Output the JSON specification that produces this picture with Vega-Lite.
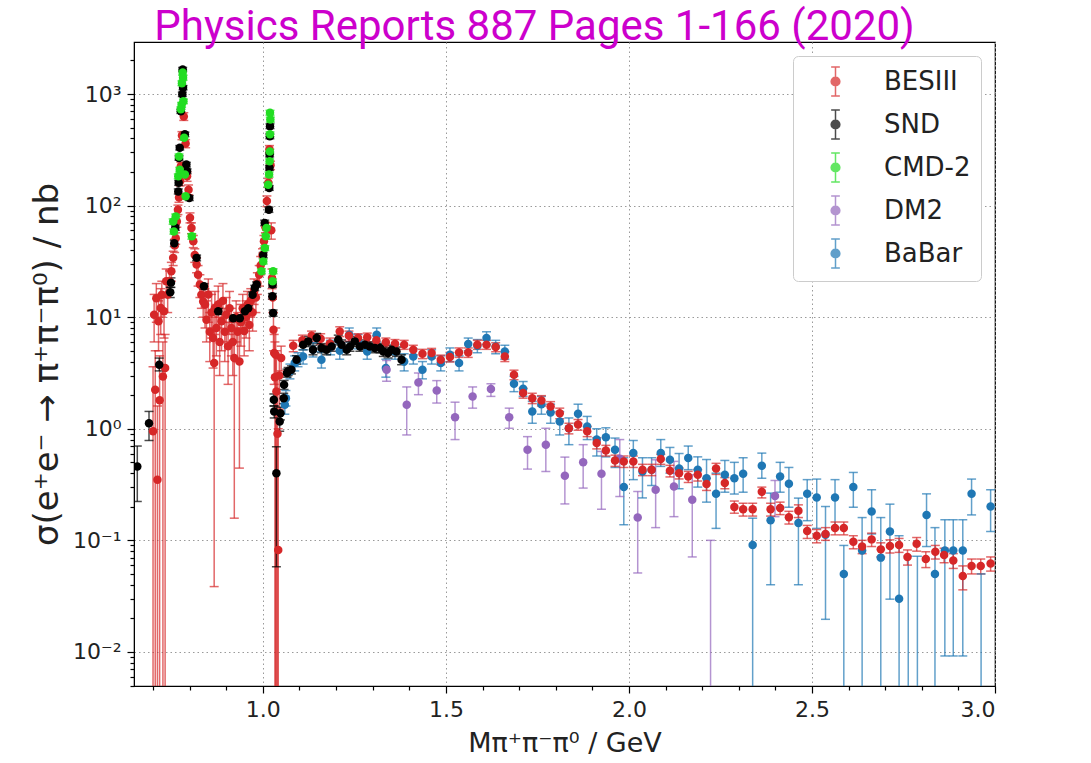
{
  "$schema": "https://vega.github.io/schema/vega-lite/v6.json",
  "width": 861,
  "height": 644,
  "autosize": {"type": "none"},
  "padding": {"left": 134, "top": 42, "right": 96, "bottom": 77},
  "background": "white",
  "title": {
    "text": "Physics Reports 887 Pages 1-166 (2020)",
    "font": "Roboto",
    "fontSize": 42,
    "fontWeight": "normal",
    "color": "#cc00cc",
    "anchor": "middle",
    "frame": "group",
    "dx": -30,
    "dy": 45,
    "baseline": "bottom",
    "offset": -4
  },
  "config": {
    "view": {"stroke": "#000000", "strokeWidth": 1.2},
    "axis": {"domainColor": "#000000", "tickColor": "#000000", "labelColor": "#222222", "titleColor": "#222222", "labelFont": "DejaVu Sans", "titleFont": "DejaVu Sans", "titleFontWeight": "normal"}
  },
  "data": {
    "values": [
      {"experiment": "BaBar", "mass": 1.060, "xsec": 1.64, "lo": 1.35, "hi": 1.95},
      {"experiment": "BaBar", "mass": 1.063, "xsec": 1.88, "lo": 1.6, "hi": 2.2},
      {"experiment": "BaBar", "mass": 1.074, "xsec": 3.27, "lo": 2.8, "hi": 3.8},
      {"experiment": "BaBar", "mass": 1.087, "xsec": 3.88, "lo": 3.3, "hi": 4.5},
      {"experiment": "BaBar", "mass": 1.096, "xsec": 4.16, "lo": 3.6, "hi": 4.8},
      {"experiment": "BaBar", "mass": 1.110, "xsec": 4.45, "lo": 3.8, "hi": 5.1},
      {"experiment": "BaBar", "mass": 1.137, "xsec": 5.1, "lo": 4.4, "hi": 5.9},
      {"experiment": "BaBar", "mass": 1.160, "xsec": 4.16, "lo": 3.5, "hi": 4.9},
      {"experiment": "BaBar", "mass": 1.185, "xsec": 5.4, "lo": 4.6, "hi": 6.2},
      {"experiment": "BaBar", "mass": 1.210, "xsec": 5.0, "lo": 4.2, "hi": 5.8},
      {"experiment": "BaBar", "mass": 1.236, "xsec": 6.97, "lo": 6.0, "hi": 8.0},
      {"experiment": "BaBar", "mass": 1.260, "xsec": 6.07, "lo": 5.2, "hi": 7.0},
      {"experiment": "BaBar", "mass": 1.285, "xsec": 4.93, "lo": 4.2, "hi": 5.7},
      {"experiment": "BaBar", "mass": 1.311, "xsec": 6.97, "lo": 6.0, "hi": 8.0},
      {"experiment": "BaBar", "mass": 1.336, "xsec": 3.5, "lo": 2.9, "hi": 4.2},
      {"experiment": "BaBar", "mass": 1.361, "xsec": 4.93, "lo": 4.2, "hi": 5.7},
      {"experiment": "BaBar", "mass": 1.386, "xsec": 4.0, "lo": 3.3, "hi": 4.7},
      {"experiment": "BaBar", "mass": 1.411, "xsec": 4.45, "lo": 3.8, "hi": 5.2},
      {"experiment": "BaBar", "mass": 1.436, "xsec": 3.38, "lo": 2.8, "hi": 4.0},
      {"experiment": "BaBar", "mass": 1.461, "xsec": 4.45, "lo": 3.8, "hi": 5.1},
      {"experiment": "BaBar", "mass": 1.486, "xsec": 3.88, "lo": 3.3, "hi": 4.5},
      {"experiment": "BaBar", "mass": 1.511, "xsec": 4.61, "lo": 4.0, "hi": 5.3},
      {"experiment": "BaBar", "mass": 1.536, "xsec": 3.88, "lo": 3.3, "hi": 4.5},
      {"experiment": "BaBar", "mass": 1.561, "xsec": 5.75, "lo": 5.0, "hi": 6.5},
      {"experiment": "BaBar", "mass": 1.586, "xsec": 5.55, "lo": 4.8, "hi": 6.3},
      {"experiment": "BaBar", "mass": 1.611, "xsec": 6.5, "lo": 5.7, "hi": 7.4},
      {"experiment": "BaBar", "mass": 1.636, "xsec": 5.47, "lo": 4.7, "hi": 6.2},
      {"experiment": "BaBar", "mass": 1.661, "xsec": 4.93, "lo": 4.2, "hi": 5.6},
      {"experiment": "BaBar", "mass": 1.686, "xsec": 2.53, "lo": 2.15, "hi": 2.95},
      {"experiment": "BaBar", "mass": 1.711, "xsec": 2.28, "lo": 1.95, "hi": 2.65},
      {"experiment": "BaBar", "mass": 1.736, "xsec": 1.43, "lo": 1.12, "hi": 1.76},
      {"experiment": "BaBar", "mass": 1.761, "xsec": 1.66, "lo": 1.35, "hi": 1.95},
      {"experiment": "BaBar", "mass": 1.786, "xsec": 1.40, "lo": 1.12, "hi": 1.66},
      {"experiment": "BaBar", "mass": 1.811, "xsec": 1.16, "lo": 0.88, "hi": 1.42},
      {"experiment": "BaBar", "mass": 1.836, "xsec": 1.01, "lo": 0.72, "hi": 1.25},
      {"experiment": "BaBar", "mass": 1.861, "xsec": 1.36, "lo": 1.12, "hi": 1.66},
      {"experiment": "BaBar", "mass": 1.886, "xsec": 1.05, "lo": 0.80, "hi": 1.29},
      {"experiment": "BaBar", "mass": 1.912, "xsec": 0.80, "lo": 0.57, "hi": 1.0},
      {"experiment": "BaBar", "mass": 1.937, "xsec": 0.84, "lo": 0.56, "hi": 1.02},
      {"experiment": "BaBar", "mass": 1.962, "xsec": 0.65, "lo": 0.45, "hi": 0.825},
      {"experiment": "BaBar", "mass": 1.986, "xsec": 0.30, "lo": 0.138, "hi": 0.55},
      {"experiment": "BaBar", "mass": 2.012, "xsec": 0.605, "lo": 0.35, "hi": 0.785},
      {"experiment": "BaBar", "mass": 2.037, "xsec": 0.414, "lo": 0.24, "hi": 0.55},
      {"experiment": "BaBar", "mass": 2.062, "xsec": 0.43, "lo": 0.31, "hi": 0.55},
      {"experiment": "BaBar", "mass": 2.087, "xsec": 0.605, "lo": 0.46, "hi": 0.80},
      {"experiment": "BaBar", "mass": 2.112, "xsec": 0.527, "lo": 0.40, "hi": 0.68},
      {"experiment": "BaBar", "mass": 2.137, "xsec": 0.44, "lo": 0.29, "hi": 0.60},
      {"experiment": "BaBar", "mass": 2.162, "xsec": 0.546, "lo": 0.43, "hi": 0.70},
      {"experiment": "BaBar", "mass": 2.188, "xsec": 0.43, "lo": 0.30, "hi": 0.56},
      {"experiment": "BaBar", "mass": 2.212, "xsec": 0.361, "lo": 0.22, "hi": 0.53},
      {"experiment": "BaBar", "mass": 2.238, "xsec": 0.261, "lo": 0.128, "hi": 0.40},
      {"experiment": "BaBar", "mass": 2.262, "xsec": 0.387, "lo": 0.27, "hi": 0.52},
      {"experiment": "BaBar", "mass": 2.288, "xsec": 0.361, "lo": 0.26, "hi": 0.50},
      {"experiment": "BaBar", "mass": 2.312, "xsec": 0.395, "lo": 0.27, "hi": 0.55},
      {"experiment": "BaBar", "mass": 2.338, "xsec": 0.091, "lo": 0.001, "hi": 0.158},
      {"experiment": "BaBar", "mass": 2.363, "xsec": 0.466, "lo": 0.36, "hi": 0.605},
      {"experiment": "BaBar", "mass": 2.387, "xsec": 0.151, "lo": 0.04, "hi": 0.265},
      {"experiment": "BaBar", "mass": 2.413, "xsec": 0.373, "lo": 0.27, "hi": 0.50},
      {"experiment": "BaBar", "mass": 2.437, "xsec": 0.321, "lo": 0.198, "hi": 0.45},
      {"experiment": "BaBar", "mass": 2.463, "xsec": 0.143, "lo": 0.04, "hi": 0.239},
      {"experiment": "BaBar", "mass": 2.487, "xsec": 0.261, "lo": 0.15, "hi": 0.35},
      {"experiment": "BaBar", "mass": 2.513, "xsec": 0.242, "lo": 0.128, "hi": 0.354},
      {"experiment": "BaBar", "mass": 2.537, "xsec": 0.112, "lo": 0.0196, "hi": 0.201},
      {"experiment": "BaBar", "mass": 2.563, "xsec": 0.242, "lo": 0.13, "hi": 0.35},
      {"experiment": "BaBar", "mass": 2.587, "xsec": 0.05, "lo": 0.001, "hi": 0.09},
      {"experiment": "BaBar", "mass": 2.613, "xsec": 0.30, "lo": 0.198, "hi": 0.406},
      {"experiment": "BaBar", "mass": 2.637, "xsec": 0.081, "lo": 0.001, "hi": 0.16},
      {"experiment": "BaBar", "mass": 2.663, "xsec": 0.181, "lo": 0.114, "hi": 0.284},
      {"experiment": "BaBar", "mass": 2.688, "xsec": 0.07, "lo": 0.001, "hi": 0.16},
      {"experiment": "BaBar", "mass": 2.713, "xsec": 0.12, "lo": 0.0297, "hi": 0.211},
      {"experiment": "BaBar", "mass": 2.738, "xsec": 0.03, "lo": 0.001, "hi": 0.11},
      {"experiment": "BaBar", "mass": 2.763, "xsec": 0.002, "lo": 0.001, "hi": 0.072},
      {"experiment": "BaBar", "mass": 2.788, "xsec": 0.002, "lo": 0.001, "hi": 0.072},
      {"experiment": "BaBar", "mass": 2.813, "xsec": 0.169, "lo": 0.088, "hi": 0.261},
      {"experiment": "BaBar", "mass": 2.836, "xsec": 0.05, "lo": 0.001, "hi": 0.13},
      {"experiment": "BaBar", "mass": 2.863, "xsec": 0.081, "lo": 0.0092, "hi": 0.153},
      {"experiment": "BaBar", "mass": 2.886, "xsec": 0.081, "lo": 0.0092, "hi": 0.153},
      {"experiment": "BaBar", "mass": 2.912, "xsec": 0.081, "lo": 0.0092, "hi": 0.153},
      {"experiment": "BaBar", "mass": 2.936, "xsec": 0.261, "lo": 0.169, "hi": 0.354},
      {"experiment": "BaBar", "mass": 2.962, "xsec": 0.002, "lo": 0.001, "hi": 0.05},
      {"experiment": "BaBar", "mass": 2.988, "xsec": 0.201, "lo": 0.12, "hi": 0.284},

      {"experiment": "DM2", "mass": 1.338, "xsec": 3.38, "lo": 2.66, "hi": 4.1},
      {"experiment": "DM2", "mass": 1.393, "xsec": 1.64, "lo": 0.88, "hi": 2.37},
      {"experiment": "DM2", "mass": 1.425, "xsec": 2.6, "lo": 2.02, "hi": 3.16},
      {"experiment": "DM2", "mass": 1.475, "xsec": 2.2, "lo": 1.70, "hi": 2.7},
      {"experiment": "DM2", "mass": 1.525, "xsec": 1.27, "lo": 0.80, "hi": 1.73},
      {"experiment": "DM2", "mass": 1.573, "xsec": 1.95, "lo": 1.53, "hi": 2.37},
      {"experiment": "DM2", "mass": 1.623, "xsec": 2.27, "lo": 1.95, "hi": 2.53},
      {"experiment": "DM2", "mass": 1.673, "xsec": 1.27, "lo": 1.01, "hi": 1.53},
      {"experiment": "DM2", "mass": 1.723, "xsec": 0.65, "lo": 0.435, "hi": 0.85},
      {"experiment": "DM2", "mass": 1.773, "xsec": 0.72, "lo": 0.414, "hi": 1.01},
      {"experiment": "DM2", "mass": 1.825, "xsec": 0.38, "lo": 0.212, "hi": 0.557},
      {"experiment": "DM2", "mass": 1.875, "xsec": 0.50, "lo": 0.294, "hi": 0.72},
      {"experiment": "DM2", "mass": 1.925, "xsec": 0.395, "lo": 0.19, "hi": 0.626},
      {"experiment": "DM2", "mass": 1.975, "xsec": 0.54, "lo": 0.247, "hi": 0.80},
      {"experiment": "DM2", "mass": 2.024, "xsec": 0.16, "lo": 0.051, "hi": 0.274},
      {"experiment": "DM2", "mass": 2.073, "xsec": 0.284, "lo": 0.13, "hi": 0.527},
      {"experiment": "DM2", "mass": 2.123, "xsec": 0.304, "lo": 0.163, "hi": 0.51},
      {"experiment": "DM2", "mass": 2.173, "xsec": 0.231, "lo": 0.071, "hi": 0.387},
      {"experiment": "DM2", "mass": 2.223, "xsec": 0.002, "lo": 0.001, "hi": 0.10},
      {"experiment": "DM2", "mass": 2.399, "xsec": 0.25, "lo": 0.163, "hi": 0.344},

      {"experiment": "BESIII", "mass": 0.700, "xsec": 0.95, "lo": 0.001, "hi": 3.6},
      {"experiment": "BESIII", "mass": 0.703, "xsec": 10.5, "lo": 6, "hi": 16},
      {"experiment": "BESIII", "mass": 0.706, "xsec": 2.24, "lo": 0.001, "hi": 5},
      {"experiment": "BESIII", "mass": 0.709, "xsec": 14.8, "lo": 9, "hi": 20},
      {"experiment": "BESIII", "mass": 0.712, "xsec": 0.35, "lo": 0.001, "hi": 1.6},
      {"experiment": "BESIII", "mass": 0.715, "xsec": 9.2, "lo": 5, "hi": 14},
      {"experiment": "BESIII", "mass": 0.718, "xsec": 1.8, "lo": 0.001, "hi": 4.5},
      {"experiment": "BESIII", "mass": 0.721, "xsec": 12.1, "lo": 7, "hi": 18},
      {"experiment": "BESIII", "mass": 0.724, "xsec": 15.9, "lo": 10, "hi": 21},
      {"experiment": "BESIII", "mass": 0.727, "xsec": 2.94, "lo": 0.001, "hi": 6},
      {"experiment": "BESIII", "mass": 0.730, "xsec": 11.3, "lo": 6.5, "hi": 16},
      {"experiment": "BESIII", "mass": 0.733, "xsec": 3.5, "lo": 0.001, "hi": 7},
      {"experiment": "BESIII", "mass": 0.736, "xsec": 21, "lo": 15, "hi": 27},
      {"experiment": "BESIII", "mass": 0.740, "xsec": 16, "lo": 11, "hi": 21},
      {"experiment": "BESIII", "mass": 0.745, "xsec": 21, "lo": 17, "hi": 26},
      {"experiment": "BESIII", "mass": 0.750, "xsec": 25.8, "lo": 21, "hi": 31},
      {"experiment": "BESIII", "mass": 0.755, "xsec": 34, "lo": 29, "hi": 39},
      {"experiment": "BESIII", "mass": 0.759, "xsec": 44, "lo": 38, "hi": 50},
      {"experiment": "BESIII", "mass": 0.762, "xsec": 51, "lo": 45, "hi": 57},
      {"experiment": "BESIII", "mass": 0.765, "xsec": 72, "lo": 64, "hi": 80},
      {"experiment": "BESIII", "mass": 0.768, "xsec": 92, "lo": 83, "hi": 101},
      {"experiment": "BESIII", "mass": 0.771, "xsec": 118, "lo": 107, "hi": 129},
      {"experiment": "BESIII", "mass": 0.774, "xsec": 165, "lo": 150, "hi": 180},
      {"experiment": "BESIII", "mass": 0.776, "xsec": 225, "lo": 205, "hi": 245},
      {"experiment": "BESIII", "mass": 0.779, "xsec": 425, "lo": 390, "hi": 460},
      {"experiment": "BESIII", "mass": 0.784, "xsec": 630, "lo": 580, "hi": 680},
      {"experiment": "BESIII", "mass": 0.789, "xsec": 360, "lo": 330, "hi": 390},
      {"experiment": "BESIII", "mass": 0.793, "xsec": 183, "lo": 165, "hi": 200},
      {"experiment": "BESIII", "mass": 0.797, "xsec": 139, "lo": 125, "hi": 153},
      {"experiment": "BESIII", "mass": 0.801, "xsec": 78, "lo": 70, "hi": 86},
      {"experiment": "BESIII", "mass": 0.805, "xsec": 63, "lo": 56, "hi": 70},
      {"experiment": "BESIII", "mass": 0.810, "xsec": 48, "lo": 42, "hi": 54},
      {"experiment": "BESIII", "mass": 0.814, "xsec": 36, "lo": 31, "hi": 41},
      {"experiment": "BESIII", "mass": 0.819, "xsec": 29.6, "lo": 25, "hi": 34},
      {"experiment": "BESIII", "mass": 0.823, "xsec": 24, "lo": 19, "hi": 29},
      {"experiment": "BESIII", "mass": 0.828, "xsec": 19.6, "lo": 15, "hi": 24},
      {"experiment": "BESIII", "mass": 0.832, "xsec": 15.9, "lo": 12, "hi": 20},
      {"experiment": "BESIII", "mass": 0.837, "xsec": 13.8, "lo": 10, "hi": 18},
      {"experiment": "BESIII", "mass": 0.842, "xsec": 13, "lo": 8, "hi": 18},
      {"experiment": "BESIII", "mass": 0.846, "xsec": 9.5, "lo": 6, "hi": 14},
      {"experiment": "BESIII", "mass": 0.851, "xsec": 16, "lo": 9, "hi": 22},
      {"experiment": "BESIII", "mass": 0.855, "xsec": 7.4, "lo": 4, "hi": 11},
      {"experiment": "BESIII", "mass": 0.860, "xsec": 11, "lo": 6.5, "hi": 16},
      {"experiment": "BESIII", "mass": 0.864, "xsec": 6.5, "lo": 3.5, "hi": 10},
      {"experiment": "BESIII", "mass": 0.867, "xsec": 3.88, "lo": 0.0385, "hi": 8},
      {"experiment": "BESIII", "mass": 0.869, "xsec": 12, "lo": 7, "hi": 17},
      {"experiment": "BESIII", "mass": 0.873, "xsec": 8, "lo": 4.5, "hi": 13},
      {"experiment": "BESIII", "mass": 0.878, "xsec": 13, "lo": 8, "hi": 19},
      {"experiment": "BESIII", "mass": 0.882, "xsec": 6, "lo": 3, "hi": 10},
      {"experiment": "BESIII", "mass": 0.887, "xsec": 9.2, "lo": 5, "hi": 14},
      {"experiment": "BESIII", "mass": 0.891, "xsec": 14, "lo": 9, "hi": 20},
      {"experiment": "BESIII", "mass": 0.896, "xsec": 7.4, "lo": 4, "hi": 12},
      {"experiment": "BESIII", "mass": 0.900, "xsec": 10.5, "lo": 6, "hi": 15},
      {"experiment": "BESIII", "mass": 0.905, "xsec": 5.5, "lo": 2.5, "hi": 9},
      {"experiment": "BESIII", "mass": 0.909, "xsec": 12, "lo": 7, "hi": 17},
      {"experiment": "BESIII", "mass": 0.914, "xsec": 8, "lo": 4.5, "hi": 12},
      {"experiment": "BESIII", "mass": 0.918, "xsec": 6.0, "lo": 3, "hi": 9.5},
      {"experiment": "BESIII", "mass": 0.922, "xsec": 4.3, "lo": 0.158, "hi": 9},
      {"experiment": "BESIII", "mass": 0.927, "xsec": 10, "lo": 6, "hi": 14},
      {"experiment": "BESIII", "mass": 0.931, "xsec": 7.4, "lo": 4, "hi": 11},
      {"experiment": "BESIII", "mass": 0.936, "xsec": 4.0, "lo": 0.444, "hi": 8},
      {"experiment": "BESIII", "mass": 0.940, "xsec": 9, "lo": 5.5, "hi": 13},
      {"experiment": "BESIII", "mass": 0.945, "xsec": 12, "lo": 8, "hi": 16},
      {"experiment": "BESIII", "mass": 0.949, "xsec": 7.5, "lo": 4.5, "hi": 11},
      {"experiment": "BESIII", "mass": 0.954, "xsec": 10, "lo": 6.5, "hi": 14},
      {"experiment": "BESIII", "mass": 0.958, "xsec": 13, "lo": 9, "hi": 17},
      {"experiment": "BESIII", "mass": 0.963, "xsec": 8.5, "lo": 5, "hi": 12},
      {"experiment": "BESIII", "mass": 0.967, "xsec": 14, "lo": 10, "hi": 18},
      {"experiment": "BESIII", "mass": 0.972, "xsec": 11, "lo": 7.5, "hi": 15},
      {"experiment": "BESIII", "mass": 0.976, "xsec": 17, "lo": 13, "hi": 22},
      {"experiment": "BESIII", "mass": 0.981, "xsec": 15, "lo": 11, "hi": 19},
      {"experiment": "BESIII", "mass": 0.985, "xsec": 20, "lo": 16, "hi": 25},
      {"experiment": "BESIII", "mass": 0.990, "xsec": 24, "lo": 19, "hi": 29},
      {"experiment": "BESIII", "mass": 0.994, "xsec": 29, "lo": 24, "hi": 35},
      {"experiment": "BESIII", "mass": 0.999, "xsec": 36, "lo": 31, "hi": 41},
      {"experiment": "BESIII", "mass": 1.003, "xsec": 48, "lo": 42, "hi": 54},
      {"experiment": "BESIII", "mass": 1.007, "xsec": 64, "lo": 57, "hi": 71},
      {"experiment": "BESIII", "mass": 1.011, "xsec": 110, "lo": 98, "hi": 122},
      {"experiment": "BESIII", "mass": 1.015, "xsec": 160, "lo": 145, "hi": 175},
      {"experiment": "BESIII", "mass": 1.018, "xsec": 320, "lo": 295, "hi": 345},
      {"experiment": "BESIII", "mass": 1.021, "xsec": 230, "lo": 210, "hi": 250},
      {"experiment": "BESIII", "mass": 1.023, "xsec": 60, "lo": 50, "hi": 70},
      {"experiment": "BESIII", "mass": 1.025, "xsec": 22.5, "lo": 18, "hi": 27},
      {"experiment": "BESIII", "mass": 1.027, "xsec": 15, "lo": 11, "hi": 19},
      {"experiment": "BESIII", "mass": 1.029, "xsec": 7.7, "lo": 5, "hi": 11},
      {"experiment": "BESIII", "mass": 1.031, "xsec": 4.77, "lo": 2.5, "hi": 7},
      {"experiment": "BESIII", "mass": 1.033, "xsec": 2.9, "lo": 0.001, "hi": 6},
      {"experiment": "BESIII", "mass": 1.035, "xsec": 4.6, "lo": 0.001, "hi": 8},
      {"experiment": "BESIII", "mass": 1.037, "xsec": 2.16, "lo": 0.001, "hi": 5},
      {"experiment": "BESIII", "mass": 1.040, "xsec": 0.9, "lo": 0.001, "hi": 3},
      {"experiment": "BESIII", "mass": 1.042, "xsec": 0.082, "lo": 0.001, "hi": 1.0},
      {"experiment": "BESIII", "mass": 1.045, "xsec": 3.0, "lo": 1.5, "hi": 4.5},
      {"experiment": "BESIII", "mass": 1.050, "xsec": 4.3, "lo": 3.3, "hi": 5.5},
      {"experiment": "BESIII", "mass": 1.083, "xsec": 5.55, "lo": 4.9, "hi": 6.2},
      {"experiment": "BESIII", "mass": 1.108, "xsec": 6.2, "lo": 5.5, "hi": 6.9},
      {"experiment": "BESIII", "mass": 1.133, "xsec": 6.8, "lo": 6.1, "hi": 7.5},
      {"experiment": "BESIII", "mass": 1.158, "xsec": 6.4, "lo": 5.7, "hi": 7.1},
      {"experiment": "BESIII", "mass": 1.183, "xsec": 5.8, "lo": 5.1, "hi": 6.5},
      {"experiment": "BESIII", "mass": 1.210, "xsec": 7.46, "lo": 6.7, "hi": 8.2},
      {"experiment": "BESIII", "mass": 1.235, "xsec": 6.8, "lo": 6.1, "hi": 7.5},
      {"experiment": "BESIII", "mass": 1.260, "xsec": 6.5, "lo": 5.9, "hi": 7.1},
      {"experiment": "BESIII", "mass": 1.285, "xsec": 6.6, "lo": 6.0, "hi": 7.2},
      {"experiment": "BESIII", "mass": 1.310, "xsec": 6.2, "lo": 5.6, "hi": 6.8},
      {"experiment": "BESIII", "mass": 1.336, "xsec": 5.95, "lo": 5.4, "hi": 6.5},
      {"experiment": "BESIII", "mass": 1.361, "xsec": 5.78, "lo": 5.25, "hi": 6.3},
      {"experiment": "BESIII", "mass": 1.386, "xsec": 5.67, "lo": 5.15, "hi": 6.2},
      {"experiment": "BESIII", "mass": 1.411, "xsec": 5.1, "lo": 4.6, "hi": 5.6},
      {"experiment": "BESIII", "mass": 1.436, "xsec": 4.7, "lo": 4.25, "hi": 5.15},
      {"experiment": "BESIII", "mass": 1.461, "xsec": 4.77, "lo": 4.3, "hi": 5.25},
      {"experiment": "BESIII", "mass": 1.486, "xsec": 4.16, "lo": 3.75, "hi": 4.57},
      {"experiment": "BESIII", "mass": 1.511, "xsec": 4.4, "lo": 3.97, "hi": 4.83},
      {"experiment": "BESIII", "mass": 1.536, "xsec": 4.83, "lo": 4.36, "hi": 5.3},
      {"experiment": "BESIII", "mass": 1.561, "xsec": 4.83, "lo": 4.36, "hi": 5.3},
      {"experiment": "BESIII", "mass": 1.586, "xsec": 5.67, "lo": 5.15, "hi": 6.2},
      {"experiment": "BESIII", "mass": 1.611, "xsec": 5.67, "lo": 5.15, "hi": 6.2},
      {"experiment": "BESIII", "mass": 1.636, "xsec": 5.4, "lo": 4.9, "hi": 5.9},
      {"experiment": "BESIII", "mass": 1.661, "xsec": 4.45, "lo": 4.0, "hi": 4.9},
      {"experiment": "BESIII", "mass": 1.686, "xsec": 3.05, "lo": 2.75, "hi": 3.35},
      {"experiment": "BESIII", "mass": 1.711, "xsec": 2.09, "lo": 1.88, "hi": 2.3},
      {"experiment": "BESIII", "mass": 1.736, "xsec": 1.88, "lo": 1.68, "hi": 2.08},
      {"experiment": "BESIII", "mass": 1.761, "xsec": 1.79, "lo": 1.6, "hi": 1.98},
      {"experiment": "BESIII", "mass": 1.786, "xsec": 1.58, "lo": 1.41, "hi": 1.75},
      {"experiment": "BESIII", "mass": 1.811, "xsec": 1.38, "lo": 1.23, "hi": 1.53},
      {"experiment": "BESIII", "mass": 1.836, "xsec": 1.01, "lo": 0.9, "hi": 1.12},
      {"experiment": "BESIII", "mass": 1.861, "xsec": 1.09, "lo": 0.97, "hi": 1.21},
      {"experiment": "BESIII", "mass": 1.886, "xsec": 0.95, "lo": 0.85, "hi": 1.05},
      {"experiment": "BESIII", "mass": 1.912, "xsec": 0.744, "lo": 0.66, "hi": 0.83},
      {"experiment": "BESIII", "mass": 1.937, "xsec": 0.64, "lo": 0.57, "hi": 0.71},
      {"experiment": "BESIII", "mass": 1.962, "xsec": 0.52, "lo": 0.46, "hi": 0.58},
      {"experiment": "BESIII", "mass": 1.986, "xsec": 0.51, "lo": 0.45, "hi": 0.57},
      {"experiment": "BESIII", "mass": 2.012, "xsec": 0.51, "lo": 0.45, "hi": 0.57},
      {"experiment": "BESIII", "mass": 2.037, "xsec": 0.43, "lo": 0.38, "hi": 0.48},
      {"experiment": "BESIII", "mass": 2.062, "xsec": 0.43, "lo": 0.38, "hi": 0.48},
      {"experiment": "BESIII", "mass": 2.087, "xsec": 0.535, "lo": 0.48, "hi": 0.59},
      {"experiment": "BESIII", "mass": 2.112, "xsec": 0.42, "lo": 0.37, "hi": 0.47},
      {"experiment": "BESIII", "mass": 2.137, "xsec": 0.40, "lo": 0.355, "hi": 0.445},
      {"experiment": "BESIII", "mass": 2.162, "xsec": 0.373, "lo": 0.33, "hi": 0.415},
      {"experiment": "BESIII", "mass": 2.188, "xsec": 0.387, "lo": 0.34, "hi": 0.43},
      {"experiment": "BESIII", "mass": 2.212, "xsec": 0.32, "lo": 0.28, "hi": 0.36},
      {"experiment": "BESIII", "mass": 2.238, "xsec": 0.44, "lo": 0.39, "hi": 0.49},
      {"experiment": "BESIII", "mass": 2.262, "xsec": 0.326, "lo": 0.29, "hi": 0.365},
      {"experiment": "BESIII", "mass": 2.288, "xsec": 0.199, "lo": 0.175, "hi": 0.225},
      {"experiment": "BESIII", "mass": 2.312, "xsec": 0.19, "lo": 0.165, "hi": 0.215},
      {"experiment": "BESIII", "mass": 2.338, "xsec": 0.19, "lo": 0.165, "hi": 0.215},
      {"experiment": "BESIII", "mass": 2.363, "xsec": 0.272, "lo": 0.24, "hi": 0.30},
      {"experiment": "BESIII", "mass": 2.387, "xsec": 0.19, "lo": 0.165, "hi": 0.215},
      {"experiment": "BESIII", "mass": 2.413, "xsec": 0.195, "lo": 0.17, "hi": 0.22},
      {"experiment": "BESIII", "mass": 2.437, "xsec": 0.161, "lo": 0.14, "hi": 0.182},
      {"experiment": "BESIII", "mass": 2.463, "xsec": 0.184, "lo": 0.16, "hi": 0.208},
      {"experiment": "BESIII", "mass": 2.487, "xsec": 0.121, "lo": 0.104, "hi": 0.136},
      {"experiment": "BESIII", "mass": 2.513, "xsec": 0.11, "lo": 0.095, "hi": 0.125},
      {"experiment": "BESIII", "mass": 2.537, "xsec": 0.114, "lo": 0.10, "hi": 0.13},
      {"experiment": "BESIII", "mass": 2.563, "xsec": 0.129, "lo": 0.112, "hi": 0.146},
      {"experiment": "BESIII", "mass": 2.587, "xsec": 0.129, "lo": 0.112, "hi": 0.146},
      {"experiment": "BESIII", "mass": 2.613, "xsec": 0.097, "lo": 0.084, "hi": 0.11},
      {"experiment": "BESIII", "mass": 2.637, "xsec": 0.088, "lo": 0.076, "hi": 0.10},
      {"experiment": "BESIII", "mass": 2.663, "xsec": 0.102, "lo": 0.088, "hi": 0.116},
      {"experiment": "BESIII", "mass": 2.688, "xsec": 0.083, "lo": 0.071, "hi": 0.095},
      {"experiment": "BESIII", "mass": 2.713, "xsec": 0.089, "lo": 0.077, "hi": 0.101},
      {"experiment": "BESIII", "mass": 2.738, "xsec": 0.091, "lo": 0.078, "hi": 0.104},
      {"experiment": "BESIII", "mass": 2.761, "xsec": 0.071, "lo": 0.06, "hi": 0.082},
      {"experiment": "BESIII", "mass": 2.786, "xsec": 0.093, "lo": 0.08, "hi": 0.106},
      {"experiment": "BESIII", "mass": 2.811, "xsec": 0.068, "lo": 0.057, "hi": 0.079},
      {"experiment": "BESIII", "mass": 2.837, "xsec": 0.079, "lo": 0.068, "hi": 0.09},
      {"experiment": "BESIII", "mass": 2.861, "xsec": 0.074, "lo": 0.063, "hi": 0.085},
      {"experiment": "BESIII", "mass": 2.886, "xsec": 0.066, "lo": 0.056, "hi": 0.076},
      {"experiment": "BESIII", "mass": 2.912, "xsec": 0.048, "lo": 0.036, "hi": 0.059},
      {"experiment": "BESIII", "mass": 2.936, "xsec": 0.059, "lo": 0.05, "hi": 0.068},
      {"experiment": "BESIII", "mass": 2.961, "xsec": 0.059, "lo": 0.05, "hi": 0.068},
      {"experiment": "BESIII", "mass": 2.988, "xsec": 0.062, "lo": 0.053, "hi": 0.071},

      {"experiment": "SND", "mass": 0.657, "xsec": 0.46, "lo": 0.223, "hi": 0.70},
      {"experiment": "SND", "mass": 0.689, "xsec": 1.12, "lo": 0.785, "hi": 1.43},
      {"experiment": "SND", "mass": 0.717, "xsec": 3.75, "lo": 3.3, "hi": 4.3},
      {"experiment": "SND", "mass": 0.747, "xsec": 16.7, "lo": 15, "hi": 18.5},
      {"experiment": "SND", "mass": 0.749, "xsec": 20.4, "lo": 18.5, "hi": 22.5},
      {"experiment": "SND", "mass": 0.758, "xsec": 46, "lo": 43, "hi": 49},
      {"experiment": "SND", "mass": 0.761, "xsec": 63.5, "lo": 60, "hi": 67},
      {"experiment": "SND", "mass": 0.769, "xsec": 134, "lo": 127, "hi": 141},
      {"experiment": "SND", "mass": 0.770, "xsec": 160, "lo": 152, "hi": 168},
      {"experiment": "SND", "mass": 0.771, "xsec": 267, "lo": 255, "hi": 280},
      {"experiment": "SND", "mass": 0.773, "xsec": 330, "lo": 315, "hi": 345},
      {"experiment": "SND", "mass": 0.776, "xsec": 700, "lo": 670, "hi": 730},
      {"experiment": "SND", "mass": 0.780, "xsec": 995, "lo": 950, "hi": 1040},
      {"experiment": "SND", "mass": 0.781, "xsec": 1660, "lo": 1590, "hi": 1730},
      {"experiment": "SND", "mass": 0.782, "xsec": 1140, "lo": 1090, "hi": 1190},
      {"experiment": "SND", "mass": 0.787, "xsec": 435, "lo": 415, "hi": 455},
      {"experiment": "SND", "mass": 0.791, "xsec": 233, "lo": 222, "hi": 244},
      {"experiment": "SND", "mass": 0.793, "xsec": 203, "lo": 193, "hi": 213},
      {"experiment": "SND", "mass": 0.799, "xsec": 117, "lo": 111, "hi": 123},
      {"experiment": "SND", "mass": 0.819, "xsec": 34, "lo": 32, "hi": 36},
      {"experiment": "SND", "mass": 0.839, "xsec": 18.9, "lo": 17.8, "hi": 20},
      {"experiment": "SND", "mass": 0.878, "xsec": 11.3, "lo": 10.6, "hi": 12},
      {"experiment": "SND", "mass": 0.919, "xsec": 9.8, "lo": 9.2, "hi": 10.4},
      {"experiment": "SND", "mass": 0.937, "xsec": 9.8, "lo": 9.2, "hi": 10.4},
      {"experiment": "SND", "mass": 0.951, "xsec": 11.3, "lo": 10.6, "hi": 12},
      {"experiment": "SND", "mass": 0.960, "xsec": 12, "lo": 11.3, "hi": 12.7},
      {"experiment": "SND", "mass": 0.972, "xsec": 15.9, "lo": 15, "hi": 16.8},
      {"experiment": "SND", "mass": 0.978, "xsec": 18.3, "lo": 17.3, "hi": 19.3},
      {"experiment": "SND", "mass": 0.983, "xsec": 19.6, "lo": 18.5, "hi": 20.7},
      {"experiment": "SND", "mass": 1.001, "xsec": 36, "lo": 34, "hi": 38},
      {"experiment": "SND", "mass": 1.005, "xsec": 70, "lo": 66, "hi": 74},
      {"experiment": "SND", "mass": 1.0165, "xsec": 92, "lo": 87, "hi": 97},
      {"experiment": "SND", "mass": 1.0175, "xsec": 144, "lo": 137, "hi": 151},
      {"experiment": "SND", "mass": 1.018, "xsec": 218, "lo": 207, "hi": 229},
      {"experiment": "SND", "mass": 1.0185, "xsec": 287, "lo": 273, "hi": 301},
      {"experiment": "SND", "mass": 1.019, "xsec": 418, "lo": 397, "hi": 439},
      {"experiment": "SND", "mass": 1.0195, "xsec": 515, "lo": 490, "hi": 540},
      {"experiment": "SND", "mass": 1.026, "xsec": 15.4, "lo": 14.5, "hi": 16.3},
      {"experiment": "SND", "mass": 1.0265, "xsec": 19.6, "lo": 18.5, "hi": 20.7},
      {"experiment": "SND", "mass": 1.028, "xsec": 10.9, "lo": 10.2, "hi": 11.6},
      {"experiment": "SND", "mass": 1.030, "xsec": 1.82, "lo": 1.6, "hi": 2.05},
      {"experiment": "SND", "mass": 1.031, "xsec": 1.43, "lo": 1.25, "hi": 1.6},
      {"experiment": "SND", "mass": 1.037, "xsec": 0.40, "lo": 0.058, "hi": 0.69},
      {"experiment": "SND", "mass": 1.046, "xsec": 1.16, "lo": 0.95, "hi": 1.38},
      {"experiment": "SND", "mass": 1.048, "xsec": 1.38, "lo": 1.2, "hi": 1.56},
      {"experiment": "SND", "mass": 1.057, "xsec": 1.88, "lo": 1.68, "hi": 2.08},
      {"experiment": "SND", "mass": 1.058, "xsec": 2.48, "lo": 2.25, "hi": 2.71},
      {"experiment": "SND", "mass": 1.066, "xsec": 3.16, "lo": 2.9, "hi": 3.42},
      {"experiment": "SND", "mass": 1.069, "xsec": 3.27, "lo": 3.0, "hi": 3.54},
      {"experiment": "SND", "mass": 1.078, "xsec": 3.38, "lo": 3.1, "hi": 3.66},
      {"experiment": "SND", "mass": 1.092, "xsec": 4.16, "lo": 3.8, "hi": 4.52},
      {"experiment": "SND", "mass": 1.110, "xsec": 5.67, "lo": 5.1, "hi": 6.25},
      {"experiment": "SND", "mass": 1.124, "xsec": 6.07, "lo": 5.45, "hi": 6.7},
      {"experiment": "SND", "mass": 1.137, "xsec": 5.1, "lo": 4.6, "hi": 5.6},
      {"experiment": "SND", "mass": 1.147, "xsec": 6.5, "lo": 5.85, "hi": 7.15},
      {"experiment": "SND", "mass": 1.160, "xsec": 5.3, "lo": 4.8, "hi": 5.8},
      {"experiment": "SND", "mass": 1.174, "xsec": 5.1, "lo": 4.6, "hi": 5.6},
      {"experiment": "SND", "mass": 1.188, "xsec": 5.47, "lo": 4.95, "hi": 6.0},
      {"experiment": "SND", "mass": 1.206, "xsec": 6.28, "lo": 5.65, "hi": 6.9},
      {"experiment": "SND", "mass": 1.215, "xsec": 5.67, "lo": 5.1, "hi": 6.25},
      {"experiment": "SND", "mass": 1.229, "xsec": 5.1, "lo": 4.6, "hi": 5.6},
      {"experiment": "SND", "mass": 1.238, "xsec": 5.47, "lo": 4.95, "hi": 6.0},
      {"experiment": "SND", "mass": 1.251, "xsec": 6.07, "lo": 5.45, "hi": 6.7},
      {"experiment": "SND", "mass": 1.265, "xsec": 5.47, "lo": 4.95, "hi": 6.0},
      {"experiment": "SND", "mass": 1.279, "xsec": 5.67, "lo": 5.1, "hi": 6.25},
      {"experiment": "SND", "mass": 1.292, "xsec": 5.47, "lo": 4.95, "hi": 6.0},
      {"experiment": "SND", "mass": 1.306, "xsec": 5.3, "lo": 4.8, "hi": 5.8},
      {"experiment": "SND", "mass": 1.320, "xsec": 5.3, "lo": 4.8, "hi": 5.8},
      {"experiment": "SND", "mass": 1.329, "xsec": 4.93, "lo": 4.45, "hi": 5.4},
      {"experiment": "SND", "mass": 1.342, "xsec": 4.77, "lo": 4.3, "hi": 5.25},
      {"experiment": "SND", "mass": 1.352, "xsec": 5.1, "lo": 4.6, "hi": 5.6},
      {"experiment": "SND", "mass": 1.365, "xsec": 4.93, "lo": 4.45, "hi": 5.4},
      {"experiment": "SND", "mass": 1.379, "xsec": 4.16, "lo": 3.75, "hi": 4.6},

      {"experiment": "CMD-2", "mass": 0.755, "xsec": 72, "lo": 68, "hi": 76},
      {"experiment": "CMD-2", "mass": 0.757, "xsec": 58.6, "lo": 55.5, "hi": 61.7},
      {"experiment": "CMD-2", "mass": 0.762, "xsec": 80, "lo": 76, "hi": 84},
      {"experiment": "CMD-2", "mass": 0.769, "xsec": 183, "lo": 174, "hi": 192},
      {"experiment": "CMD-2", "mass": 0.771, "xsec": 276, "lo": 262, "hi": 290},
      {"experiment": "CMD-2", "mass": 0.773, "xsec": 210, "lo": 200, "hi": 220},
      {"experiment": "CMD-2", "mass": 0.776, "xsec": 730, "lo": 695, "hi": 765},
      {"experiment": "CMD-2", "mass": 0.778, "xsec": 800, "lo": 760, "hi": 840},
      {"experiment": "CMD-2", "mass": 0.779, "xsec": 1250, "lo": 1190, "hi": 1310},
      {"experiment": "CMD-2", "mass": 0.781, "xsec": 1560, "lo": 1480, "hi": 1640},
      {"experiment": "CMD-2", "mass": 0.782, "xsec": 1400, "lo": 1330, "hi": 1470},
      {"experiment": "CMD-2", "mass": 0.783, "xsec": 860, "lo": 820, "hi": 900},
      {"experiment": "CMD-2", "mass": 0.785, "xsec": 405, "lo": 385, "hi": 425},
      {"experiment": "CMD-2", "mass": 0.787, "xsec": 190, "lo": 180, "hi": 200},
      {"experiment": "CMD-2", "mass": 0.789, "xsec": 121, "lo": 115, "hi": 127},
      {"experiment": "CMD-2", "mass": 0.806, "xsec": 53, "lo": 50, "hi": 56},
      {"experiment": "CMD-2", "mass": 0.996, "xsec": 25.8, "lo": 24.5, "hi": 27.1},
      {"experiment": "CMD-2", "mass": 1.001, "xsec": 31.6, "lo": 30, "hi": 33.2},
      {"experiment": "CMD-2", "mass": 1.0055, "xsec": 41.6, "lo": 39.5, "hi": 43.7},
      {"experiment": "CMD-2", "mass": 1.008, "xsec": 53, "lo": 50, "hi": 56},
      {"experiment": "CMD-2", "mass": 1.010, "xsec": 63, "lo": 60, "hi": 66},
      {"experiment": "CMD-2", "mass": 1.0145, "xsec": 154, "lo": 146, "hi": 162},
      {"experiment": "CMD-2", "mass": 1.017, "xsec": 190, "lo": 180, "hi": 200},
      {"experiment": "CMD-2", "mass": 1.0185, "xsec": 250, "lo": 238, "hi": 262},
      {"experiment": "CMD-2", "mass": 1.019, "xsec": 305, "lo": 290, "hi": 320},
      {"experiment": "CMD-2", "mass": 1.0195, "xsec": 435, "lo": 413, "hi": 457},
      {"experiment": "CMD-2", "mass": 1.0205, "xsec": 590, "lo": 560, "hi": 620},
      {"experiment": "CMD-2", "mass": 1.0195, "xsec": 680, "lo": 646, "hi": 714},
      {"experiment": "CMD-2", "mass": 1.0265, "xsec": 21, "lo": 20, "hi": 22},
      {"experiment": "CMD-2", "mass": 1.028, "xsec": 25.8, "lo": 24.5, "hi": 27.1}
    ]
  },
  "encoding": {
    "x": {
      "field": "mass",
      "type": "quantitative",
      "scale": {"domain": [0.648, 3.0], "nice": false, "zero": false},
      "axis": {
        "title": "Mπ⁺π⁻π⁰  /  GeV",
        "titleFontSize": 27,
        "titlePadding": 10,
        "values": [0.7, 0.8, 0.9, 1.0, 1.1, 1.2, 1.3, 1.4, 1.5, 1.6, 1.7, 1.8, 1.9, 2.0, 2.1, 2.2, 2.3, 2.4, 2.5, 2.6, 2.7, 2.8, 2.9, 3.0],
        "labelExpr": "abs(datum.value * 2 - round(datum.value * 2)) < 0.001 ? format(datum.value, '.1f') : ''",
        "labelFontSize": 22,
        "labelPadding": 6,
        "labelOverlap": false,
        "labelBound": false,
        "tickWidth": 1.2,
        "tickSize": {"condition": {"test": "abs(datum.value * 2 - round(datum.value * 2)) < 0.001", "value": 7}, "value": 4},
        "grid": true,
        "gridColor": "#9a9a9a",
        "gridDash": [1.5, 3],
        "gridWidth": 1,
        "gridOpacity": {"condition": {"test": "abs(datum.value * 2 - round(datum.value * 2)) < 0.001", "value": 1}, "value": 0}
      }
    },
    "color": {
      "field": "experiment",
      "type": "nominal",
      "scale": {
        "domain": ["BESIII", "SND", "CMD-2", "DM2", "BaBar"],
        "range": ["#d62728", "#000000", "#22dd22", "#9467bd", "#1f77b4"]
      },
      "legend": {
        "title": null,
        "orient": "top-right",
        "offset": 14,
        "padding": 10,
        "symbolOffset": 17,
        "labelOffset": 33,
        "rowPadding": 8,
        "labelFont": "DejaVu Sans",
        "labelFontSize": 26,
        "labelColor": "#222222",
        "symbolType": "M0,-1L0,1M-0.3,-1L0.3,-1M-0.3,1L0.3,1M0.3,0A0.3,0.3,0,1,1,-0.3,0A0.3,0.3,0,1,1,0.3,0Z",
        "symbolSize": 841,
        "symbolStrokeWidth": 1.5,
        "strokeColor": "#cccccc",
        "fillColor": "#ffffff",
        "cornerRadius": 5,
        "encode": {
          "symbols": {
            "update": {
              "fill": {"scale": "color", "field": "value"},
              "stroke": {"scale": "color", "field": "value"},
              "strokeWidth": {"value": 1.5},
              "opacity": {"value": 1}
            }
          }
        }
      }
    }
  },
  "layer": [
    {
      "mark": {"type": "rule", "clip": true, "strokeWidth": 1.5, "opacity": 0.7},
      "encoding": {
        "y": {
          "field": "lo",
          "type": "quantitative",
          "scale": {"type": "log", "domain": [0.00495, 2925], "nice": false},
          "axis": {
            "title": "σ(e⁺e⁻ → π⁺π⁻π⁰)  /  nb",
            "titleFontSize": 34,
            "titlePadding": 8,
            "values": [0.005, 0.006, 0.007, 0.008, 0.009, 0.01, 0.02, 0.03, 0.04, 0.05, 0.06, 0.07, 0.08, 0.09, 0.1, 0.2, 0.3, 0.4, 0.5, 0.6, 0.7, 0.8, 0.9, 1, 2, 3, 4, 5, 6, 7, 8, 9, 10, 20, 30, 40, 50, 60, 70, 80, 90, 100, 200, 300, 400, 500, 600, 700, 800, 900, 1000, 2000],
            "labelExpr": "abs(log(datum.value) / LN10 - round(log(datum.value) / LN10)) < 0.001 ? ['10⁻²', '10⁻¹', '10⁰', '10¹', '10²', '10³'][round(log(datum.value) / LN10) + 2] : ''",
            "labelFontSize": 22,
            "labelPadding": 6,
            "labelOverlap": false,
            "labelBound": false,
            "tickWidth": 1.2,
            "tickSize": {"condition": {"test": "abs(log(datum.value) / LN10 - round(log(datum.value) / LN10)) < 0.001", "value": 7}, "value": 4},
            "grid": true,
            "gridColor": "#9a9a9a",
            "gridDash": [1.5, 3],
            "gridWidth": 1,
            "gridOpacity": {"condition": {"test": "abs(log(datum.value) / LN10 - round(log(datum.value) / LN10)) < 0.001", "value": 1}, "value": 0}
          }
        },
        "y2": {"field": "hi"}
      }
    },
    {
      "mark": {"type": "tick", "clip": true, "orient": "horizontal", "size": 9, "thickness": 1.5, "opacity": 0.7},
      "encoding": {
        "y": {"field": "lo", "type": "quantitative", "scale": {"type": "log", "domain": [0.00495, 2925], "nice": false}}
      }
    },
    {
      "mark": {"type": "tick", "clip": true, "orient": "horizontal", "size": 9, "thickness": 1.5, "opacity": 0.7},
      "encoding": {
        "y": {"field": "hi", "type": "quantitative", "scale": {"type": "log", "domain": [0.00495, 2925], "nice": false}}
      }
    },
    {
      "mark": {"type": "point", "clip": true, "filled": true, "size": 72, "opacity": 1, "shape": "circle"},
      "encoding": {
        "y": {"field": "xsec", "type": "quantitative", "scale": {"type": "log", "domain": [0.00495, 2925], "nice": false}}
      }
    }
  ]
}
